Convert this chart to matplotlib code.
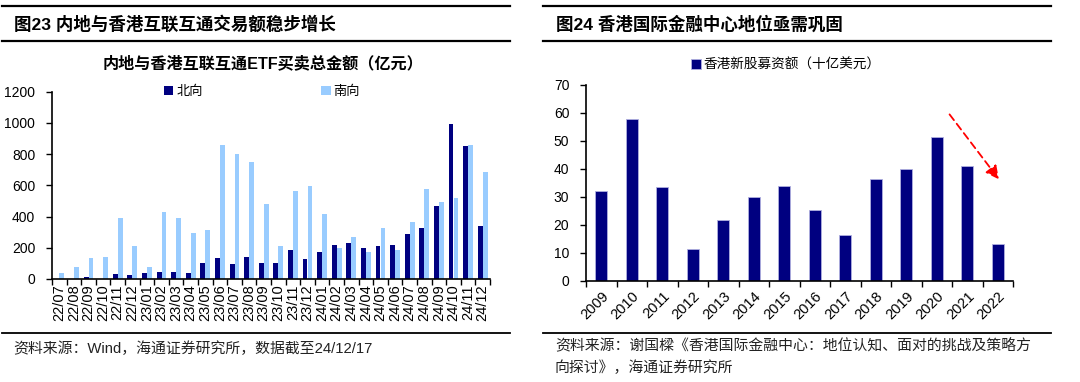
import matplotlib
matplotlib.use("Agg")
import matplotlib.pyplot as plt
from matplotlib.lines import Line2D
import numpy as np

plt.rcParams['font.family'] = ['Liberation Sans', 'Noto Sans CJK SC']

# ---------------- data ----------------
months = ["22/07", "22/08", "22/09", "22/10", "22/11", "22/12",
          "23/01", "23/02", "23/03", "23/04", "23/05", "23/06",
          "23/07", "23/08", "23/09", "23/10", "23/11", "23/12",
          "24/01", "24/02", "24/03", "24/04", "24/05", "24/06",
          "24/07", "24/08", "24/09", "24/10", "24/11", "24/12"]
north = [2, 3, 10, 2, 32, 23, 41, 47, 45, 41, 103, 137,
         98, 143, 105, 104, 184, 126, 171, 218, 231, 197, 214, 218,
         286, 329, 466, 994, 851, 342]
south = [38, 75, 135, 140, 389, 214, 79, 431, 391, 293, 312, 861,
         801, 748, 483, 214, 566, 596, 417, 201, 269, 173, 327, 184,
         368, 575, 492, 519, 859, 686]

years = ["2009", "2010", "2011", "2012", "2013", "2014", "2015",
         "2016", "2017", "2018", "2019", "2020", "2021", "2022"]
ipo = [32, 58, 33.5, 11.5, 21.8, 30, 33.9, 25.2, 16.3, 36.5, 40, 51.3, 41, 13.3]

arrow_start = (11.42, 59.5)
arrow_end = (13.04, 36.3)

NAVY = "#000080"
LIGHT = "#99CCFF"

W, H = 1080, 382
fig = plt.figure(figsize=(W / 100, H / 100), dpi=100)


def fx(px):
    return px / W


def fy(py):
    return 1 - py / H


def hline(x0, x1, y, lw):
    fig.add_artist(Line2D([fx(x0), fx(x1)], [fy(y), fy(y)], color="black",
                          lw=lw, transform=fig.transFigure))


# frame lines
for (x0, x1) in [(2, 510), (543, 1051)]:
    hline(x0, x1, 6, 1.6)
    hline(x0, x1, 41, 1.6)
    hline(x0, x1, 333, 1.3)

fig.text(fx(14), fy(24), "图23 内地与香港互联互通交易额稳步增长", fontsize=12.6,
         fontweight="bold", va="center", ha="left")
fig.text(fx(556), fy(24), "图24 香港国际金融中心地位亟需巩固", fontsize=12.6,
         fontweight="bold", va="center", ha="left")

fig.text(fx(13), fy(349), "资料来源：Wind，海通证券研究所，数据截至24/12/17",
         fontsize=10.7, va="center", ha="left", color="#222222")
fig.text(fx(555), fy(346), "资料来源：谢国樑《香港国际金融中心：地位认知、面对的挑战及策略方",
         fontsize=10.7, va="center", ha="left", color="#222222")
fig.text(fx(555), fy(368), "向探讨》，海通证券研究所",
         fontsize=10.7, va="center", ha="left", color="#222222")

# ---------------- left chart ----------------
axL = fig.add_axes([fx(52), fy(279), fx(490) - fx(52), fy(91.7) - fy(279)])
x = np.arange(len(months))
bw = 0.34
bn = axL.bar(x - bw / 2, north, width=bw, color=NAVY, label="北向")
bs = axL.bar(x + bw / 2, south, width=bw, color=LIGHT, label="南向")
axL.set_xlim(-0.5, len(months) - 0.5)
axL.set_ylim(0, 1200)
axL.set_yticks(np.arange(0, 1201, 200))
axL.set_xticks(x)
axL.set_xticklabels(months, rotation=90, fontsize=10.5)
axL.set_xticks(np.arange(-0.5, len(months), 1), minor=True)
axL.tick_params(axis="x", which="major", length=0, pad=4)
axL.tick_params(axis="x", which="minor", length=4, width=1)
axL.tick_params(axis="y", labelsize=10, length=4, width=1, pad=8)
for s in ["top", "right"]:
    axL.spines[s].set_visible(False)
for s in ["left", "bottom"]:
    axL.spines[s].set_linewidth(1.2)
fig.text(fx(263), fy(63), "内地与香港互联互通ETF买卖总金额（亿元）", fontsize=11.6,
         fontweight="bold", ha="center", va="center")
fig.legend(handles=[bn, bs], loc="center", bbox_to_anchor=(fx(262), fy(92)),
           ncol=2, frameon=False, fontsize=9.5, handlelength=0.7, handleheight=0.7,
           handletextpad=0.2, columnspacing=9.0, borderpad=0)

# ---------------- right chart ----------------
axR = fig.add_axes([fx(586), fy(281), fx(1013) - fx(586), fy(85) - fy(281)])
xr = np.arange(len(years))
br = axR.bar(xr, ipo, width=0.4, color=NAVY, edgecolor="#B0B0E0", linewidth=0.6,
             label="香港新股募资额（十亿美元）")
axR.set_xlim(-0.5, len(years) - 0.5)
axR.set_ylim(0, 70)
axR.set_yticks(np.arange(0, 71, 10))
axR.set_xticks(xr)
axR.set_xticklabels(years, rotation=45, ha="right", rotation_mode="anchor", fontsize=10.5)
axR.set_xticks(np.arange(-0.5, len(years), 1), minor=True)
axR.tick_params(axis="x", which="major", length=0, pad=6)
axR.tick_params(axis="x", which="minor", length=4, width=1)
axR.tick_params(axis="y", labelsize=10, length=4, width=1, pad=8)
for s in ["top", "right"]:
    axR.spines[s].set_visible(False)
for s in ["left", "bottom"]:
    axR.spines[s].set_linewidth(1.2)
fig.legend(handles=[br], loc="center", bbox_to_anchor=(fx(786), fy(65)),
           frameon=False, fontsize=9.8, handlelength=0.7, handleheight=0.7,
           handletextpad=0.2, borderpad=0)
axR.annotate("", xy=arrow_end, xytext=arrow_start,
             arrowprops=dict(arrowstyle="-|>,head_length=0.8,head_width=0.4",
                             color="red", lw=1.3, linestyle=(0, (4, 2.5)),
                             shrinkA=0, shrinkB=0))

fig.savefig("out.png", dpi=100)
